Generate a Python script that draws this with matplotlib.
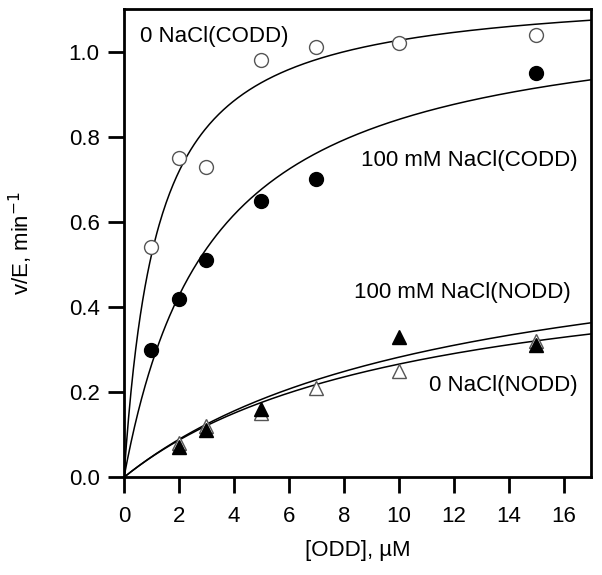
import numpy as np
import matplotlib.pyplot as plt

plt.rcParams['font.family'] = ['Liberation Sans', 'DejaVu Sans']

# data points
x_codd_0 = [1, 2, 3, 5, 7, 10, 15]
y_codd_0 = [0.54, 0.75, 0.73, 0.98, 1.01, 1.02, 1.04]

x_codd_100 = [1, 2, 3, 5, 7, 15]
y_codd_100 = [0.30, 0.42, 0.51, 0.65, 0.70, 0.95]

x_nodd_0 = [2, 3, 5, 7, 10, 15]
y_nodd_0 = [0.08, 0.12, 0.15, 0.21, 0.25, 0.32]

x_nodd_100 = [2, 3, 5, 10, 15]
y_nodd_100 = [0.07, 0.11, 0.16, 0.33, 0.31]

# Michaelis-Menten fit parameters (Vmax, Km)
fit_codd_0 = (1.15, 1.2)
fit_codd_100 = (1.11, 3.2)
fit_nodd_100 = (0.615, 11.8)
fit_nodd_0 = (0.545, 10.5)


def mm(x, vmax, km):
    return vmax * x / (km + x)


fig = plt.figure(figsize=(6.02, 5.75), dpi=100)
ax = fig.add_axes([0.206, 0.170, 0.776, 0.814])

xs = np.linspace(0, 17, 400)
for p in [fit_codd_0, fit_codd_100, fit_nodd_100, fit_nodd_0]:
    ax.plot(xs, mm(xs, *p), color='black', lw=1.1, zorder=2)

ax.plot(x_codd_0, y_codd_0, 'o', ms=10, mfc='white', mec='#555555', mew=1.0, zorder=3)
ax.plot(x_codd_100, y_codd_100, 'o', ms=10, mfc='black', mec='black', zorder=3)
ax.plot(x_nodd_0, y_nodd_0, '^', ms=9.5, mfc='white', mec='#555555', mew=1.0, zorder=3)
ax.plot(x_nodd_100, y_nodd_100, '^', ms=9.5, mfc='black', mec='black', zorder=4)

fs = 16
ax.text(0.58, 1.035, '0 NaCl(CODD)', fontsize=fs, ha='left', va='center')
ax.text(16.5, 0.744, '100 mM NaCl(CODD)', fontsize=fs, ha='right', va='center')
ax.text(16.25, 0.435, '100 mM NaCl(NODD)', fontsize=fs, ha='right', va='center')
ax.text(16.5, 0.216, '0 NaCl(NODD)', fontsize=fs, ha='right', va='center')

ax.set_xlim(0, 17)
ax.set_ylim(0, 1.1)
ax.set_xticks(range(0, 17, 2))
ax.set_yticks([0.0, 0.2, 0.4, 0.6, 0.8, 1.0])
ax.set_yticklabels(['0.0', '0.2', '0.4', '0.6', '0.8', '1.0'])
ax.tick_params(direction='out', length=11.5, width=2, labelsize=fs)
ax.tick_params(axis='y', pad=6)
ax.tick_params(axis='x', pad=9)

for s in ax.spines.values():
    s.set_linewidth(2)

ax.set_xlabel('[ODD], µM', fontsize=fs)
ax.set_ylabel('v/E, min$^{-1}$', fontsize=fs)
ax.xaxis.set_label_coords(0.5, -0.135)
ax.yaxis.set_label_coords(-0.19, 0.5)

fig.savefig('out.png', dpi=100)
